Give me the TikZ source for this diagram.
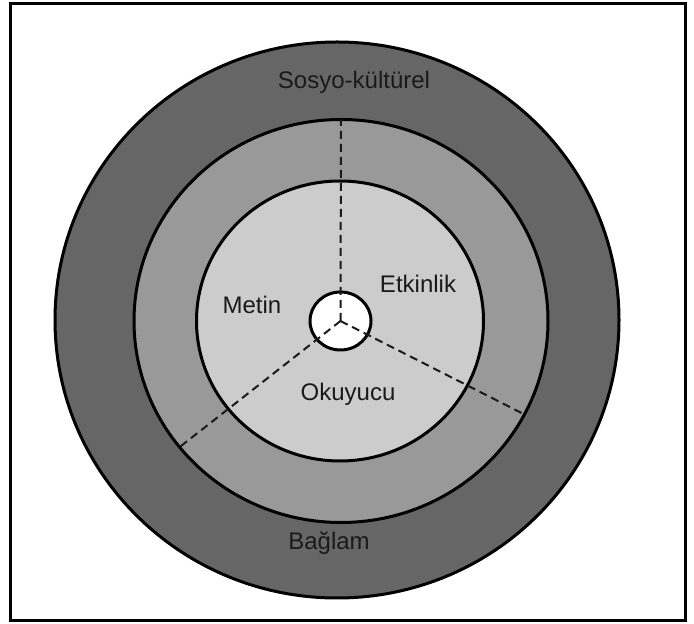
\documentclass[tikz,border=0pt]{standalone}
\usepackage{fontspec}
\setmainfont{Liberation Sans}
\usetikzlibrary{shapes.geometric}
\definecolor{ctxOuter}{HTML}{666666}
\definecolor{ctxMid}{HTML}{999999}
\definecolor{ctxInner}{HTML}{CCCCCC}
\definecolor{ctxInk}{HTML}{1A1A1A}
\tikzset{
  ctx frame/.style={draw=black, line width=3pt},
  ctx ring/.style={ellipse, draw=black, line width=3pt, inner sep=0pt, outer sep=0pt},
  ctx spoke/.style={draw=ctxInk, dash pattern=on 8pt off 5pt, line width=2pt},
  ctx label/.style={font=\fontsize{24}{28}\selectfont, text=ctxInk, anchor=base},
}

\begin{document}
\begin{tikzpicture}[x=1pt,y=1pt]
  \useasboundingbox (0,0) rectangle (694,624);
  % outer frame
  \draw[ctx frame] (10,3) rectangle (685,620);
  % rings, outside in
  \node[ctx ring, fill=ctxOuter, minimum width=564pt, minimum height=556pt] (outer) at (337,304) {};
  \node[ctx ring, fill=ctxMid, minimum width=414pt, minimum height=403pt] (mid) at (341,303) {};
  \node[ctx ring, fill=ctxInner, minimum width=287pt, minimum height=280pt] (inner) at (340,303) {};
  \node[ctx ring, fill=white, minimum width=61pt, minimum height=58pt] (core) at (340.5,303) {};
  % spokes from the centre
  \draw[ctx spoke] (core.center) -- (mid.90);
  \draw[ctx spoke] (core.center) -- (mid.-27.5);
  \draw[ctx spoke] (core.center) -- (mid.218.8);
  % labels
  \node[ctx label] (sosyo) at (354,535) {Sosyo-kültürel};
  \node[ctx label] (baglam) at (329,74) {Bağlam};
  \node[ctx label] (metin) at (252,310.5) {Metin};
  \node[ctx label] (etkinlik) at (418,331.5) {Etkinlik};
  \node[ctx label] (okuyucu) at (348,223) {Okuyucu};
\end{tikzpicture}
\end{document}
